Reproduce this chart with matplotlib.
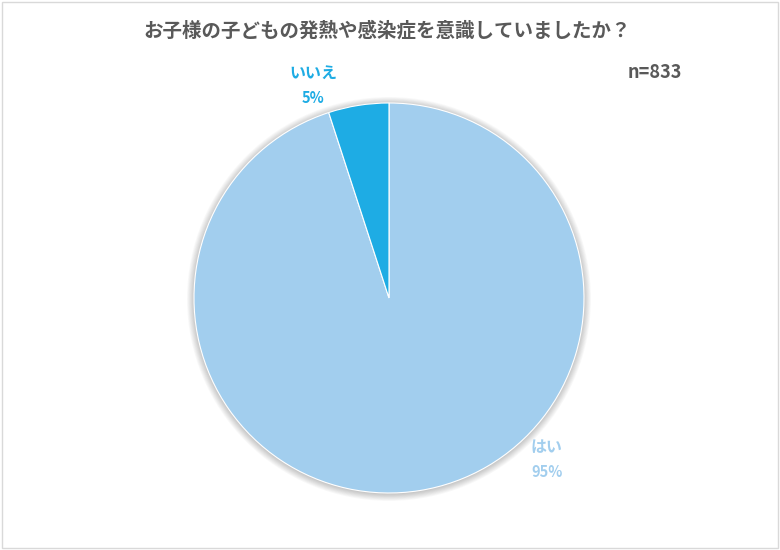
import matplotlib.pyplot as plt
from matplotlib.patches import Circle, Rectangle

plt.rcParams["font.family"] = ["Noto Sans CJK JP", "DejaVu Sans"]

title = "お子様の子どもの発熱や感染症を意識していましたか？"
labels = ["はい", "いいえ"]
values = [95, 5]
colors = ["#A2CEEE", "#1EACE4"]
label_colors = ["#A2CEEE", "#1EACE4"]
sample_note = "n=833"

fig = plt.figure(figsize=(7.8, 5.5), dpi=100)
fig.patches.append(Rectangle((0.002, 0.003), 0.996, 0.994, transform=fig.transFigure,
                             fill=False, edgecolor="#D9D9D9", linewidth=1.0))

ax = fig.add_axes([0.1987, 0.0327, 0.6, 0.851])

# soft shadow around the pie
for i in range(10):
    ax.add_patch(Circle((0.0, -0.005), 1.0 + 0.004 * i, facecolor="#000000",
                        alpha=0.025, edgecolor="none", zorder=0))

wedges, _ = ax.pie(values, colors=colors, startangle=90, counterclock=False,
                   radius=1.0, wedgeprops=dict(edgecolor="white", linewidth=0.8))
for w in wedges:
    w.set_zorder(2)

# data labels (name above, percent below)
label_pos = [(0.81, -0.765), (-0.39, 1.155)]
for (x, y), name, val, col in zip(label_pos, labels, values, label_colors):
    ax.text(x, y, name, ha="center", va="center", fontsize=11.5,
            fontweight="bold", color=col)
    ax.text(x, y - 0.127, f"{val}%", ha="center", va="center", fontsize=10.5,
            fontweight="bold", color=col)

ax.set_xlim(-1.2, 1.2)
ax.set_ylim(-1.2, 1.2)
ax.set_aspect("equal")
ax.axis("off")

fig.text(0.496, 0.945, title, ha="center", va="center", fontsize=14,
         fontweight="bold", color="#595959")
fig.text(0.839, 0.869, sample_note, ha="center", va="center", fontsize=13,
         fontweight="bold", color="#595959")

fig.savefig("out.png", dpi=100)
